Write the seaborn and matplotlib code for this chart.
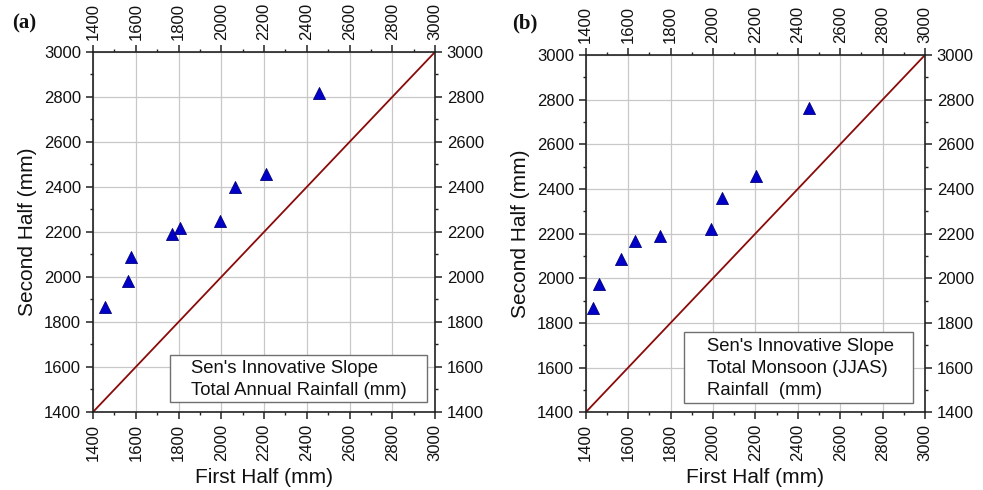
import matplotlib
matplotlib.use("Agg")
import matplotlib.pyplot as plt
from matplotlib.patches import Rectangle
from matplotlib.ticker import MultipleLocator
import seaborn as sns
import pandas as pd

# Annual rainfall: first half vs second half of the record (mm)
annual_first = [1455, 1565, 1579, 1768, 1805, 1996, 2064, 2211, 2457]
annual_second = [1865, 1982, 2088, 2191, 2219, 2249, 2400, 2459, 2816]

# Monsoon (JJAS) rainfall: first half vs second half (mm)
monsoon_first = [1436, 1463, 1568, 1634, 1752, 1992, 2045, 2202, 2455]
monsoon_second = [1866, 1973, 2088, 2167, 2191, 2221, 2361, 2458, 2764]

# 1:1 no-trend line
diag = [1400, 3000]

panel_tags = ["(a)", "(b)"]
legend_texts = ["Sen's Innovative Slope\nTotal Annual Rainfall (mm)",
                "Sen's Innovative Slope\nTotal Monsoon (JJAS)\nRainfall  (mm)"]

sns.set_theme(style="white")
plt.rcParams["font.family"] = ["Liberation Sans", "DejaVu Sans"]

fig = plt.figure(figsize=(9.83, 4.90), dpi=100)

axes_rects = [
    [93 / 983, (490 - 412) / 490, 342 / 983, 360 / 490],
    [585.7 / 983, (490 - 412.3) / 490, 339.3 / 983, 357.3 / 490],
]
legend_boxes = [
    # x0, y0, x1, y1 in pixels of the figure
    (170, 355, 426.7, 402.3),
    (684.3, 332.3, 913.3, 402.7),
]
text_x = [190.7, 706.7]
tag_x = [12, 512]

datasets = [(annual_first, annual_second), (monsoon_first, monsoon_second)]

for i, (fx, sy) in enumerate(datasets):
    ax = fig.add_axes(axes_rects[i])
    df = pd.DataFrame({"first": fx, "second": sy})
    line_df = pd.DataFrame({"x": diag, "y": diag})

    sns.lineplot(data=line_df, x="x", y="y", ax=ax, color="#8B0A0A",
                 linewidth=1.3, zorder=2)
    sns.scatterplot(data=df, x="first", y="second", ax=ax, marker="^",
                    s=75, color="#0000C8", edgecolor="#00007A", linewidth=0.6,
                    zorder=3)

    ax.set_xlim(1400, 3000)
    ax.set_ylim(1400, 3000)
    ax.xaxis.set_major_locator(MultipleLocator(200))
    ax.xaxis.set_minor_locator(MultipleLocator(100))
    ax.yaxis.set_major_locator(MultipleLocator(200))
    ax.yaxis.set_minor_locator(MultipleLocator(100))

    ax.grid(True, which="major", color="#C8C8C8", linewidth=0.9)
    ax.set_axisbelow(True)
    for sp in ax.spines.values():
        sp.set_visible(True)
        sp.set_color("#222222")
        sp.set_linewidth(1.2)

    ax.tick_params(which="both", direction="out", color="#222222",
                   top=True, bottom=True, left=True, right=True,
                   labeltop=True, labelbottom=True, labelleft=True,
                   labelright=True)
    ax.tick_params(which="major", length=5, width=1.1, labelsize=12,
                   pad=3.5, labelcolor="#111111")
    ax.tick_params(which="minor", length=2.5, width=1.0)
    ax.tick_params(axis="x", which="major", labelrotation=90)

    ax.set_xlabel("First Half (mm)", fontsize=15, color="#111111", labelpad=5)
    ax.set_ylabel("Second Half (mm)", fontsize=15, color="#111111", labelpad=5)

    # Annotation box inside the plot, text centred vertically in it
    x0, y0, x1, y1 = legend_boxes[i]
    rect = Rectangle((x0 / 983, 1 - y1 / 490), (x1 - x0) / 983, (y1 - y0) / 490,
                     transform=fig.transFigure, facecolor="white",
                     edgecolor="#707070", linewidth=1.0, zorder=5)
    fig.patches.append(rect)
    fig.text(text_x[i] / 983, 1 - ((y0 + y1) / 2 + 1) / 490, legend_texts[i],
             fontsize=13.3, color="#111111", va="center", ha="left",
             linespacing=1.35, zorder=6)

    fig.text(tag_x[i] / 983, 1 - 23 / 490, panel_tags[i], fontsize=15,
             fontweight="bold", family=["Liberation Serif", "DejaVu Serif"],
             va="center", ha="left", color="#111111")

fig.savefig("out.png", dpi=100)
